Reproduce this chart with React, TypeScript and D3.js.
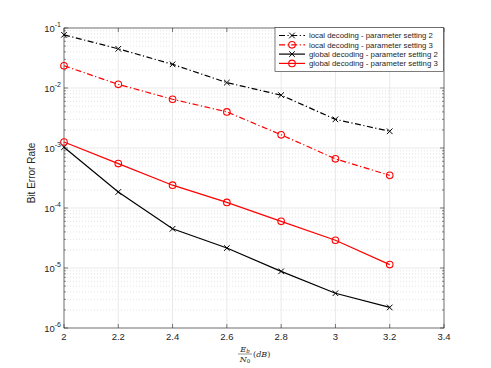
import React, { useEffect, useRef } from 'react';
import * as d3 from 'd3';

const snr = [2, 2.2, 2.4, 2.6, 2.8, 3, 3.2];
const localSet2 = [0.077, 0.045, 0.0248, 0.0123, 0.0076, 0.003, 0.0019];
const localSet3 = [0.0235, 0.0115, 0.0065, 0.004, 0.00166, 0.00066, 0.00035];
const globalSet2 = [0.00103, 0.000185, 0.000045, 0.0000215, 0.0000088, 0.0000038, 0.0000022];
const globalSet3 = [0.00126, 0.00055, 0.00024, 0.000124, 0.00006, 0.000029, 0.0000114];
const xTicks = [2, 2.2, 2.4, 2.6, 2.8, 3, 3.2, 3.4];
const yExponents = [-1, -2, -3, -4, -5, -6];

const seriesList = [
  { name: 'local decoding - parameter setting 2', values: localSet2, color: '#000000', dashed: true, marker: 'x' },
  { name: 'local decoding - parameter setting 3', values: localSet3, color: '#ff0000', dashed: true, marker: 'o' },
  { name: 'global decoding - parameter setting 2', values: globalSet2, color: '#000000', dashed: false, marker: 'x' },
  { name: 'global decoding - parameter setting 3', values: globalSet3, color: '#ff0000', dashed: false, marker: 'o' },
];

const App = () => {
  const ref = useRef<SVGSVGElement | null>(null);

  useEffect(() => {
    const root = d3.select(ref.current);
    root.selectAll('*').remove();

    const left = 64, right = 444, top = 28, bottom = 328;
    const axisColor = '#262626';
    const font = 'Liberation Sans, Arial, Helvetica, sans-serif';

    const x = d3.scaleLinear().domain([2, 3.4]).range([left, right]);
    const y = d3.scaleLog().domain([1e-6, 1e-1]).range([bottom, top]);

    root.append('rect').attr('x', left).attr('y', top)
      .attr('width', right - left).attr('height', bottom - top).attr('fill', 'white');

    // minor grid (dotted)
    const minor: number[] = [];
    for (let e = -6; e < -1; e++) {
      for (let m = 2; m <= 9; m++) minor.push(m * Math.pow(10, e));
    }
    root.append('g').selectAll('line').data(minor).enter().append('line')
      .attr('x1', left).attr('x2', right)
      .attr('y1', (d) => y(d)).attr('y2', (d) => y(d))
      .attr('stroke', '#d4d4d4').attr('stroke-width', 0.6)
      .attr('stroke-dasharray', '1,2');

    // major grid
    root.append('g').selectAll('line').data(yExponents).enter().append('line')
      .attr('x1', left).attr('x2', right)
      .attr('y1', (d) => y(Math.pow(10, d))).attr('y2', (d) => y(Math.pow(10, d)))
      .attr('stroke', '#e3e3e3').attr('stroke-width', 0.8);
    root.append('g').selectAll('line').data(xTicks).enter().append('line')
      .attr('x1', (d) => x(d)).attr('x2', (d) => x(d))
      .attr('y1', top).attr('y2', bottom)
      .attr('stroke', '#e3e3e3').attr('stroke-width', 0.8);

    // axes box
    root.append('rect').attr('x', left).attr('y', top)
      .attr('width', right - left).attr('height', bottom - top)
      .attr('fill', 'none').attr('stroke', axisColor).attr('stroke-width', 0.6);

    // tick marks
    root.append('g').selectAll('line').data(xTicks).enter().append('line')
      .attr('x1', (d) => x(d)).attr('x2', (d) => x(d))
      .attr('y1', bottom).attr('y2', bottom - 4)
      .attr('stroke', axisColor).attr('stroke-width', 0.6);
    root.append('g').selectAll('line').data(xTicks).enter().append('line')
      .attr('x1', (d) => x(d)).attr('x2', (d) => x(d))
      .attr('y1', top).attr('y2', top + 4)
      .attr('stroke', axisColor).attr('stroke-width', 0.6);
    root.append('g').selectAll('line').data(yExponents).enter().append('line')
      .attr('x1', left).attr('x2', left + 4)
      .attr('y1', (d) => y(Math.pow(10, d))).attr('y2', (d) => y(Math.pow(10, d)))
      .attr('stroke', axisColor).attr('stroke-width', 0.6);
    root.append('g').selectAll('line').data(yExponents).enter().append('line')
      .attr('x1', right).attr('x2', right - 4)
      .attr('y1', (d) => y(Math.pow(10, d))).attr('y2', (d) => y(Math.pow(10, d)))
      .attr('stroke', axisColor).attr('stroke-width', 0.6);
    root.append('g').selectAll('line').data(minor).enter().append('line')
      .attr('x1', left).attr('x2', left + 2)
      .attr('y1', (d) => y(d)).attr('y2', (d) => y(d))
      .attr('stroke', axisColor).attr('stroke-width', 0.5);
    root.append('g').selectAll('line').data(minor).enter().append('line')
      .attr('x1', right).attr('x2', right - 2)
      .attr('y1', (d) => y(d)).attr('y2', (d) => y(d))
      .attr('stroke', axisColor).attr('stroke-width', 0.5);

    // x tick labels
    root.append('g').selectAll('text').data(xTicks).enter().append('text')
      .attr('x', (d) => x(d)).attr('y', bottom + 12)
      .attr('text-anchor', 'middle')
      .attr('font-family', font).attr('font-size', 9.5).attr('fill', axisColor)
      .text((d) => String(d));

    // y tick labels 10^e
    const yl = root.append('g').selectAll('text').data(yExponents).enter().append('text')
      .attr('x', left - 3).attr('y', (d) => y(Math.pow(10, d)) + 3.5)
      .attr('text-anchor', 'end')
      .attr('font-family', font).attr('font-size', 9.5).attr('fill', axisColor);
    yl.append('tspan').text('10');
    yl.append('tspan').attr('dy', -4.5).attr('font-size', 7).text((d) => String(d));

    // y label
    root.append('text')
      .attr('transform', `translate(35,${(top + bottom) / 2 - 5}) rotate(-90)`)
      .attr('text-anchor', 'middle')
      .attr('font-family', font).attr('font-size', 10).attr('fill', axisColor)
      .text('Bit Error Rate');

    // x label: Eb/N0 (dB)
    const serif = 'DejaVu Serif, Liberation Serif, serif';
    const xl = root.append('g').attr('fill', axisColor).attr('font-family', serif);
    const fx = 245;
    const eb = xl.append('text').attr('x', fx).attr('y', 351.5).attr('text-anchor', 'middle')
      .attr('font-size', 8).attr('font-style', 'italic');
    eb.append('tspan').text('E');
    eb.append('tspan').attr('font-size', 5.5).attr('dy', 1.5).text('b');
    xl.append('line').attr('x1', fx - 7).attr('x2', fx + 7).attr('y1', 354).attr('y2', 354)
      .attr('stroke', axisColor).attr('stroke-width', 0.5);
    const n0 = xl.append('text').attr('x', fx).attr('y', 361.5).attr('text-anchor', 'middle')
      .attr('font-size', 8).attr('font-style', 'italic');
    n0.append('tspan').text('N');
    n0.append('tspan').attr('font-size', 5.5).attr('font-style', 'normal').attr('dy', 1.5).text('0');
    const db = xl.append('text').attr('x', 253).attr('y', 357).attr('font-size', 8);
    db.append('tspan').text('(');
    db.append('tspan').attr('font-style', 'italic').text('dB');
    db.append('tspan').text(')');

    // series
    const line = d3.line<number>()
      .x((_, i) => x(snr[i]))
      .y((d) => y(d));

    const drawMarker = (g: any, cx: number, cy: number, marker: string, color: string) => {
      if (marker === 'o') {
        g.append('circle').attr('cx', cx).attr('cy', cy).attr('r', 3.3)
          .attr('fill', 'none').attr('stroke', color).attr('stroke-width', 1.1);
      } else {
        const s = 2.8;
        g.append('path')
          .attr('d', `M${cx - s},${cy - s}L${cx + s},${cy + s}M${cx - s},${cy + s}L${cx + s},${cy - s}`)
          .attr('stroke', color).attr('stroke-width', 1);
      }
    };

    seriesList.forEach((s) => {
      const g = root.append('g');
      g.append('path').datum(s.values).attr('d', line)
        .attr('fill', 'none').attr('stroke', s.color).attr('stroke-width', 1.2)
        .attr('stroke-dasharray', s.dashed ? '6,2.5,1.2,2.5' : null);
      s.values.forEach((v, i) => drawMarker(g, x(snr[i]), y(v), s.marker, s.color));
    });

    // legend
    const lg = root.append('g');
    lg.append('rect').attr('x', 275).attr('y', 27.5).attr('width', 168.5).attr('height', 44)
      .attr('fill', 'white').attr('stroke', axisColor).attr('stroke-width', 0.6);
    seriesList.forEach((s, i) => {
      const ly = 35.5 + i * 9.3;
      lg.append('line').attr('x1', 279).attr('x2', 305).attr('y1', ly).attr('y2', ly)
        .attr('stroke', s.color).attr('stroke-width', 1.2)
        .attr('stroke-dasharray', s.dashed ? '6,2.5,1.2,2.5' : null);
      drawMarker(lg, 292, ly, s.marker, s.color);
      lg.append('text').attr('x', 309).attr('y', ly + 2.8)
        .attr('font-family', font).attr('font-size', 7.8).attr('fill', axisColor)
        .text(s.name);
    });
  }, []);

  return (
    <svg ref={ref} width={491} height={368}
      style={{ position: 'absolute', left: 0, top: 0, background: 'white' }} />
  );
};

export default App;
